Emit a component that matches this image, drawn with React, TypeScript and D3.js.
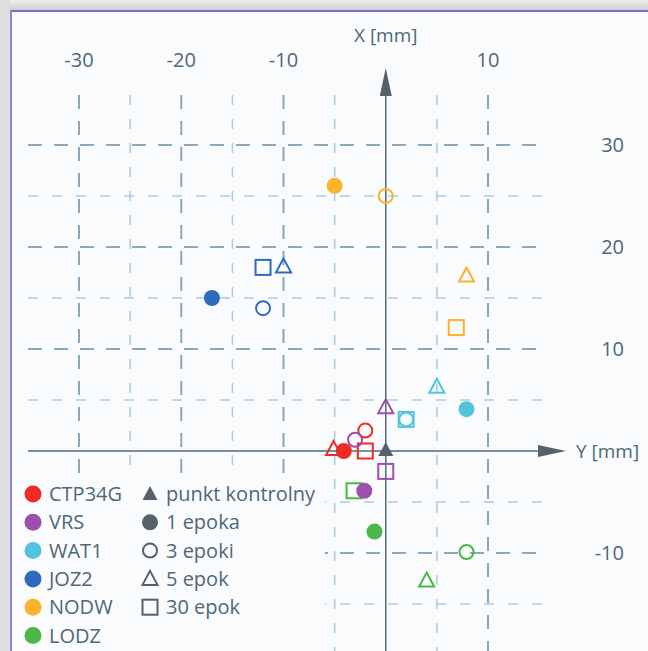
import React, { useEffect, useRef } from 'react';
import * as d3 from 'd3';

// stations (legend, column 1)
const stations = ['CTP34G', 'VRS', 'WAT1', 'JOZ2', 'NODW', 'LODZ'];
// epoch sets (legend, column 2)
const epochs = ['1 epoka', '3 epoki', '5 epok', '30 epok'];

// Y [mm] (horizontal) per station, in order: 1 epoka, 3 epoki, 5 epok, 30 epok
const yCTP34G = [-4.1, -2.0, -5.1, -2.0];
const yVRS = [-2.1, -3.0, 0.0, 0.0];
const yWAT1 = [7.9, 2.0, 5.0, 2.0];
const yJOZ2 = [-17.0, -12.0, -10.0, -12.0];
const yNODW = [-5.0, 0.0, 7.9, 6.9];
const yLODZ = [-1.1, 7.9, 4.0, -3.1];

// X [mm] (vertical) per station, same order
const xCTP34G = [0.0, 2.0, 0.2, 0.0];
const xVRS = [-3.9, 1.1, 4.3, -2.0];
const xWAT1 = [4.1, 3.1, 6.3, 3.1];
const xJOZ2 = [15.0, 14.0, 18.1, 18.0];
const xNODW = [26.0, 25.0, 17.2, 12.1];
const xLODZ = [-7.9, -9.9, -12.7, -3.9];

const topTicks = [-30, -20, -10, 10];
const rightTicks = [30, 20, 10, -10];

const colors = ['#ee2b25', '#9d4fae', '#52c4dc', '#2f6ac0', '#fbb22c', '#4cb649'];
const textColor = '#4f6876';
const bg = '#f9fbfd';

const App = () => {
  const ref = useRef<SVGSVGElement>(null);

  useEffect(() => {
    const svg = d3.select(ref.current);
    svg.selectAll('*').remove();

    const W = 648;
    const H = 651;
    const font = 'Open Sans, sans-serif';

    const xScale = d3.scaleLinear().domain([-30, 10]).range([79, 488]);
    const yScale = d3.scaleLinear().domain([-10, 30]).range([553, 145]);
    const x0 = xScale(0);
    const y0 = yScale(0);

    // frame
    const defs = svg.append('defs');
    const grad = defs.append('linearGradient').attr('id', 'shadeTop').attr('x1', 0).attr('x2', 0).attr('y1', 0).attr('y2', 1);
    grad.append('stop').attr('offset', '0%').attr('stop-color', '#eeeeee');
    grad.append('stop').attr('offset', '100%').attr('stop-color', '#cfcfcf');
    svg.append('rect').attr('width', W).attr('height', H).attr('fill', bg);
    svg.append('rect').attr('width', W).attr('height', 10).attr('fill', 'url(#shadeTop)');
    svg.append('rect').attr('width', 10).attr('height', H).attr('fill', '#dedede');
    svg.append('line').attr('x1', 10).attr('x2', W).attr('y1', 11).attr('y2', 11).attr('stroke', '#7070c8').attr('stroke-width', 2);
    svg.append('line').attr('x1', 11).attr('x2', 11).attr('y1', 10).attr('y2', H).attr('stroke', '#8a88c8').attr('stroke-width', 2);

    // grid
    const grid = svg.append('g');
    const vLines = d3.range(-30, 15, 5).filter((v) => v !== 0);
    const hLines = d3.range(-15, 35, 5).filter((v) => v !== 0);
    grid
      .selectAll('line.v')
      .data(vLines)
      .enter()
      .append('line')
      .attr('x1', (d) => xScale(d))
      .attr('x2', (d) => xScale(d))
      .attr('y1', 95)
      .attr('y2', H)
      .attr('stroke', (d) => (d % 10 === 0 ? '#8aa8ba' : '#a9cbe0'))
      .attr('stroke-width', (d) => (d % 10 === 0 ? 2 : 1.5))
      .attr('stroke-dasharray', (d) => (d % 10 === 0 ? '14 12' : '10 14'));
    grid
      .selectAll('line.h')
      .data(hLines)
      .enter()
      .append('line')
      .attr('x1', 28)
      .attr('x2', 542)
      .attr('y1', (d) => yScale(d))
      .attr('y2', (d) => yScale(d))
      .attr('stroke', (d) => (d % 10 === 0 ? '#8aa8ba' : '#a9cbe0'))
      .attr('stroke-width', (d) => (d % 10 === 0 ? 2 : 1.5))
      .attr('stroke-dasharray', (d) => (d % 10 === 0 ? '14 12' : '10 14'));

    // legend background hides the grid behind it
    svg.append('rect').attr('x', 13).attr('y', 478).attr('width', 312).attr('height', H - 478).attr('fill', bg);

    // axes with arrows
    svg.append('line').attr('x1', 28).attr('x2', 548).attr('y1', y0).attr('y2', y0).attr('stroke', '#4f6a7a').attr('stroke-width', 1.5);
    svg.append('line').attr('x1', x0).attr('x2', x0).attr('y1', 90).attr('y2', H).attr('stroke', '#4f6a7a').attr('stroke-width', 1.5);
    svg.append('path').attr('d', `M${x0},68 L${x0 - 6},96 L${x0 + 6},96 Z`).attr('fill', '#56616b');
    svg.append('path').attr('d', `M566,${y0} L538,${y0 - 6} L538,${y0 + 6} Z`).attr('fill', '#56616b');

    // tick labels
    svg
      .selectAll('text.top')
      .data(topTicks)
      .enter()
      .append('text')
      .attr('x', (d) => xScale(d))
      .attr('y', 67)
      .attr('text-anchor', 'middle')
      .style('font-family', font)
      .style('font-size', '20px')
      .attr('fill', textColor)
      .text((d) => d);
    svg
      .selectAll('text.right')
      .data(rightTicks)
      .enter()
      .append('text')
      .attr('x', 624)
      .attr('y', (d) => yScale(d) + 7)
      .attr('text-anchor', 'end')
      .style('font-family', font)
      .style('font-size', '20px')
      .attr('fill', textColor)
      .text((d) => d);

    svg.append('text').attr('x', x0).attr('y', 42).attr('text-anchor', 'middle').style('font-family', font).style('font-size', '19px').attr('fill', textColor).text('X [mm]');
    svg.append('text').attr('x', 576).attr('y', y0 + 7).style('font-family', font).style('font-size', '19px').attr('fill', textColor).text('Y [mm]');

    // markers
    const marker = (g: any, kind: number, cx: number, cy: number, color: string) => {
      if (kind === 0) {
        g.append('circle').attr('cx', cx).attr('cy', cy).attr('r', 8).attr('fill', color);
      } else if (kind === 1) {
        g.append('circle').attr('cx', cx).attr('cy', cy).attr('r', 7).attr('fill', 'none').attr('stroke', color).attr('stroke-width', 2);
      } else if (kind === 2) {
        g.append('path')
          .attr('d', `M${cx},${cy - 8} L${cx + 7.5},${cy + 6} L${cx - 7.5},${cy + 6} Z`)
          .attr('fill', 'none')
          .attr('stroke', color)
          .attr('stroke-width', 2);
      } else if (kind === 3) {
        g.append('rect').attr('x', cx - 7.5).attr('y', cy - 7.5).attr('width', 15).attr('height', 15).attr('fill', 'none').attr('stroke', color).attr('stroke-width', 2);
      } else {
        g.append('path').attr('d', `M${cx},${cy - 8} L${cx + 7.5},${cy + 6} L${cx - 7.5},${cy + 6} Z`).attr('fill', color);
      }
    };

    const ys = [yCTP34G, yVRS, yWAT1, yJOZ2, yNODW, yLODZ];
    const xs = [xCTP34G, xVRS, xWAT1, xJOZ2, xNODW, xLODZ];
    const pts = svg.append('g');
    [3, 2, 1, 0].forEach((e) => {
      stations.forEach((s, i) => {
        marker(pts, e, xScale(ys[i][e]), yScale(xs[i][e]), colors[i]);
      });
    });
    // control point
    marker(pts, 4, x0, y0 - 1, '#56616b');

    // legend
    const leg = svg.append('g');
    const rowH = 28.3;
    stations.forEach((s, i) => {
      const y = 494 + i * rowH;
      leg.append('circle').attr('cx', 33).attr('cy', y).attr('r', 8.5).attr('fill', colors[i]);
      leg.append('text').attr('x', 49).attr('y', y + 7).style('font-family', font).style('font-size', '20px').attr('fill', textColor).text(s);
    });
    const legendLabels = ['punkt kontrolny', ...epochs];
    const legendKinds = [4, 0, 1, 2, 3];
    legendLabels.forEach((s, i) => {
      const y = 494 + i * rowH;
      marker(leg, legendKinds[i], 150, y, '#56616b');
      leg.append('text').attr('x', 166).attr('y', y + 7).style('font-family', font).style('font-size', '20px').attr('fill', textColor).text(s);
    });
  }, []);

  return <svg ref={ref} width={648} height={651} style={{ position: 'absolute', left: 0, top: 0 }} />;
};

export default App;
